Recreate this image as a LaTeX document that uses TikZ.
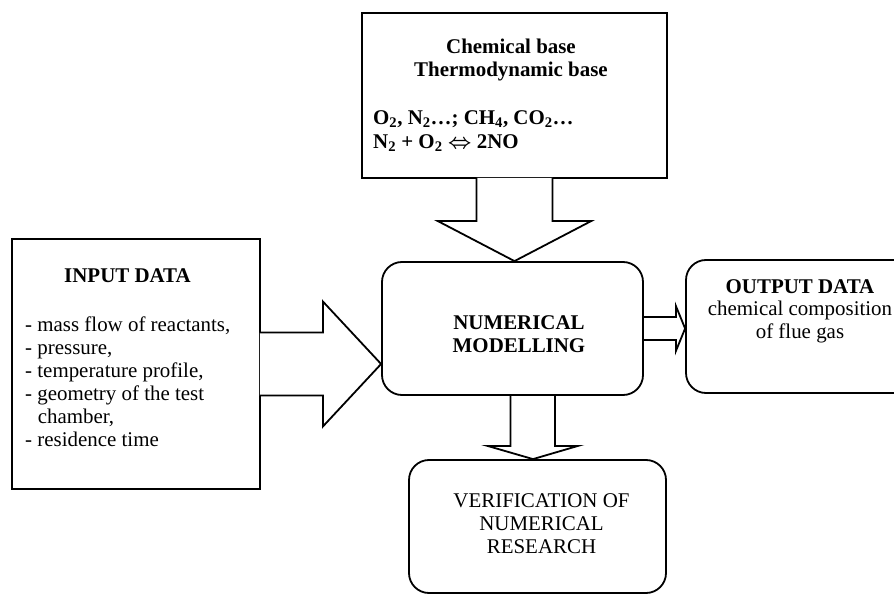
\documentclass[tikz,border=0pt]{standalone}
\usepackage{fontspec}
\setmainfont{Liberation Serif}
\usepackage{tikz}
\usetikzlibrary{positioning, calc}
\tikzstyle{plainbox} = [rectangle, draw, line width=1.8bp, inner sep=0pt]
\tikzstyle{roundbox} = [plainbox, rounded corners=20bp]
\tikzstyle{boxtext} = [inner sep=0pt, font=\fontsize{21}{23}\selectfont]
\tikzstyle{boldtext} = [inner sep=0pt, font=\fontsize{21}{23}\selectfont\bfseries]
\tikzstyle{blockarrow} = [draw, line width=1.8bp, line join=miter]

\begin{document}
\begin{tikzpicture}[x=1bp, y=-1bp]
    \useasboundingbox (0,0) rectangle (894,595);
    \clip (0,0) rectangle (894,595);

    % Boxes
    \node[plainbox, minimum width=305bp, minimum height=165bp] (chem) at (514.5, 95.5) {};
    \node[plainbox, minimum width=248bp, minimum height=250bp] (input) at (136, 364) {};
    \node[roundbox, minimum width=261bp, minimum height=133bp] (model) at (512.5, 328.5) {};
    \node[roundbox, minimum width=228bp, minimum height=133bp] (output) at (800, 326.5) {};
    \node[roundbox, minimum width=257bp, minimum height=133bp] (verif) at (537.5, 526.5) {};

    % Texts
    \node[boldtext, align=center, anchor=north] (chemtitle) at (511, 38.5) {Chemical base\\Thermodynamic base};
    \node[boldtext, align=left, anchor=north west] (chemformula) at (373, 110.5)
        {O\textsubscript{2}, N\textsubscript{2}…; CH\textsubscript{4}, CO\textsubscript{2}…\\[1bp]
         N\textsubscript{2} + O\textsubscript{2} {\boldmath$\Leftrightarrow$} 2NO};
    \node[boldtext, anchor=base] (inputtitle) at (127.5, 282) {INPUT DATA};
    \node[boxtext, align=left, anchor=north west] (inputlist) at (25, 316.5)
        {- mass flow of reactants,\\- pressure,\\- temperature profile,\\- geometry of the test\\
         \hspace*{0.6em}chamber,\\- residence time};
    \node[boldtext, align=center, anchor=north] (modeltext) at (519, 315.5) {NUMERICAL\\MODELLING};
    \node[boxtext, align=center, anchor=north] (outputtext) at (800, 279)
        {\textbf{OUTPUT DATA}\\chemical composition\\of flue gas};
    \node[boxtext, align=center, anchor=north] (veriftext) at (541.5, 493.5)
        {VERIFICATION OF\\NUMERICAL\\RESEARCH};

    % Block arrows
    \draw[blockarrow, fill=white] ($(chem.south)+(-38,-1)$) -- ++(0,43) -- ++(-39,0)
        -- (chem.south |- model.north) -- ($(chem.south)+(77,42)$) -- ++(-39,0) -- ++(0,-43);
    \draw[blockarrow, fill=white] ($(input.east)+(-1,-31.5)$) -- ++(63,0) -- ++(0,-31)
        -- (model.west |- input.east) -- ($(input.east)+(62,62.5)$) -- ++(0,-31) -- ++(-63,0);
    \draw[blockarrow] ($(model.east)+(0,-11.5)$) -- ++(32,0) -- ++(0,-11)
        -- (output.west |- model.east) -- ($(model.east)+(32,22.5)$) -- ++(0,-11) -- ++(-32,0);
    \draw[blockarrow] ($(model.south -| verif.north)+(-27,0)$) -- ++(0,50) -- ++(-23,0)
        -- ($(verif.north)+(-4.5,0)$) -- ($(model.south -| verif.north)+(40.5,50)$) -- ++(-23,0) -- ++(0,-50);
\end{tikzpicture}
\end{document}
